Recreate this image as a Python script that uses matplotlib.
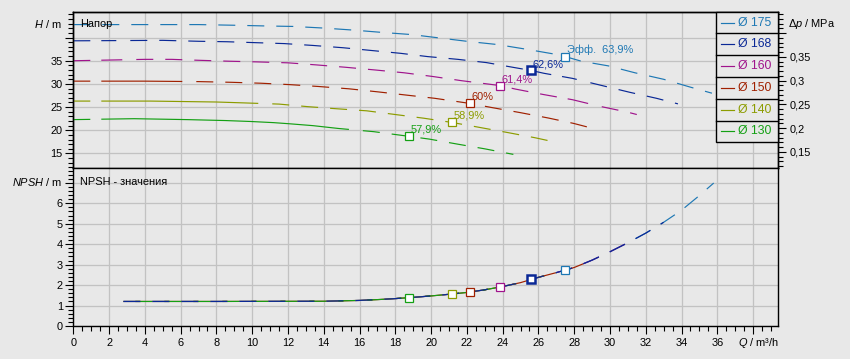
import numpy as np
import matplotlib
matplotlib.use("Agg")
import matplotlib.pyplot as plt
from matplotlib.ticker import MultipleLocator, FixedLocator, FixedFormatter, NullFormatter
from matplotlib.patches import Rectangle
from matplotlib.lines import Line2D

plt.rcParams['font.family'] = ['Liberation Sans', 'DejaVu Sans']
plt.rcParams['mathtext.fontset'] = 'custom'
plt.rcParams['mathtext.it'] = 'Liberation Sans:italic'
plt.rcParams['mathtext.rm'] = 'Liberation Sans'
plt.rcParams['lines.scale_dashes'] = False

# ---------------- data ----------------
diameters = ["175", "168", "160", "150", "140", "130"]
colors = ["#1e78b4", "#0a2896", "#a0148c", "#a02000", "#8c9c00", "#14a014"]

q175 = [0, 3, 7, 9.1, 10.8, 12.3, 14.0, 15.7, 17.3, 18.9, 22.1, 23.7, 25.3, 26.8, 27.5, 28.4, 29.9, 31.4, 33.0, 34.5, 35.7]
h175 = [42.8, 42.8, 42.8, 42.65, 42.5, 42.4, 42.05, 41.6, 41.1, 40.65, 39.15, 38.5, 37.5, 36.5, 35.9, 34.9, 33.9, 32.4, 31.0, 29.3, 28.0]

q168 = [0, 5, 7, 8.6, 10.2, 11.8, 13.4, 15.1, 16.7, 18.3, 19.8, 21.5, 23.1, 24.7, 25.6, 26.3, 27.9, 29.5, 31.1, 32.6, 33.8]
h168 = [39.3, 39.4, 39.2, 39.1, 38.9, 38.7, 38.3, 37.8, 37.2, 36.6, 35.9, 35.3, 34.6, 33.5, 32.9, 32.3, 31.2, 29.7, 28.2, 26.9, 25.7]

q160 = [0, 4, 5.5, 7.0, 8.7, 10.3, 12.0, 13.6, 15.2, 16.9, 18.5, 20.1, 21.7, 23.85, 24.7, 26.3, 27.9, 29.4, 31.0, 31.5]
h160 = [35.0, 35.3, 35.3, 35.1, 34.9, 34.75, 34.55, 34.1, 33.6, 33.0, 32.4, 31.6, 30.7, 29.65, 28.9, 27.7, 26.6, 25.2, 23.9, 23.4]

q150 = [0, 4, 7, 8.85, 10.5, 12.1, 13.7, 15.4, 17.0, 18.6, 20.2, 22.16, 23.4, 25.0, 26.55, 27.95, 29.3]
h150 = [30.6, 30.6, 30.5, 30.35, 30.15, 29.85, 29.45, 28.95, 28.3, 27.6, 26.9, 25.8, 24.9, 23.8, 22.65, 21.5, 20.15]

q140 = [0, 4.3, 8.0, 9.6, 11.5, 13.1, 14.7, 16.4, 18.0, 19.6, 21.15, 22.6, 24.3, 25.8, 27.0]
h140 = [26.3, 26.3, 26.1, 25.9, 25.65, 25.1, 24.65, 24.2, 23.4, 22.6, 21.7, 20.7, 19.5, 18.4, 17.4]

q130 = [0, 3.4, 6.4, 8.5, 9.9, 11.2, 12.1, 13.4, 14.8, 16.8, 18.76, 19.9, 21.5, 23.0, 24.6]
h130 = [22.3, 22.5, 22.3, 22.1, 21.9, 21.65, 21.4, 21.0, 20.4, 19.7, 18.7, 18.1, 17.0, 16.0, 14.8]

q_npsh = [2.8, 8, 14, 15, 16, 17, 18, 19, 20, 21, 22, 23, 24, 25, 26, 27, 28, 29, 30, 31, 32, 33, 34, 35, 35.8]
npsh = [1.2, 1.2, 1.21, 1.23, 1.25, 1.29, 1.34, 1.40, 1.47, 1.55, 1.64, 1.77, 1.93, 2.12, 2.38, 2.61, 2.86, 3.22, 3.63, 4.07, 4.54, 5.07, 5.66, 6.38, 6.99]
q_max = [35.8, 33.8, 31.5, 29.4, 27.0, 24.6]

eff_q = [27.5, 25.6, 23.85, 22.16, 21.15, 18.76]
eff_h = [35.9, 32.9, 29.65, 25.8, 21.7, 18.7]
eff_npsh = [2.73, 2.29, 1.90, 1.66, 1.56, 1.38]
eff_labels = ["Эфф.  63,9%", "62,6%", "61,4%", "60%", "58,9%", "57,9%"]

h_ticks = [15, 20, 25, 30, 35]
dp_ticks = [0.15, 0.2, 0.25, 0.3, 0.35]
dp_labels = ["0,15", "0,2", "0,25", "0,3", "0,35"]
npsh_ticks = [0, 1, 2, 3, 4, 5, 6]
q_ticks = list(range(0, 38, 2))

curves_q = [q175, q168, q160, q150, q140, q130]
curves_h = [h175, h168, h160, h150, h140, h130]

# ---------------- style ----------------
BG = "#e8e8e8"
GRID = "#c2c2c2"
PX = 0.72  # points per pixel at 100 dpi
FS = 7.9
LW = 0.85

fig = plt.figure(figsize=(8.5, 3.59), dpi=100, facecolor=BG)
W, Hf = 850.0, 359.0
xl, xr = 73.3, 778.3
ytop, ysep, ybot = 11.7, 168.3, 326.0
ax1 = fig.add_axes([xl / W, 1 - ysep / Hf, (xr - xl) / W, (ysep - ytop) / Hf])
ax2 = fig.add_axes([xl / W, 1 - ybot / Hf, (xr - xl) / W, (ybot - ysep) / Hf])

for ax in (ax1, ax2):
    ax.set_facecolor(BG)
    ax.set_xlim(0, 39.41)
    ax.xaxis.set_major_locator(MultipleLocator(2))
    ax.grid(True, which='major', color=GRID, lw=1.3 * PX)
    ax.set_axisbelow(True)
    for s in ax.spines.values():
        s.set_color('black')
        s.set_linewidth(1.0)

# upper axis
ax1.set_ylim(11.8, 45.58)
ax1.yaxis.set_major_locator(FixedLocator(h_ticks + [40]))
ax1.yaxis.set_major_formatter(FixedFormatter([str(t) for t in h_ticks] + [""]))
ax1.yaxis.set_minor_locator(MultipleLocator(1))
ax1.tick_params(axis='x', which='both', length=0, labelbottom=False)
ax1.tick_params(axis='y', which='major', direction='out', length=5.5, width=0.8, pad=2, labelsize=FS)
ax1.tick_params(axis='y', which='minor', direction='out', length=3.6, width=0.8)

k = 0.00977
ax1b = ax1.twinx()
ax1b.set_ylim(11.8 * k, 45.58 * k)
ax1b.yaxis.set_major_locator(FixedLocator(dp_ticks + [0.4]))
ax1b.yaxis.set_major_formatter(FixedFormatter(dp_labels + [""]))
ax1b.yaxis.set_minor_locator(MultipleLocator(0.01))
ax1b.yaxis.set_minor_formatter(NullFormatter())
ax1b.tick_params(axis='y', which='major', direction='out', length=5.5, width=0.8, pad=2.5, labelsize=FS)
ax1b.tick_params(axis='y', which='minor', direction='out', length=3.6, width=0.8)
for s in ax1b.spines.values():
    s.set_linewidth(1.0)

# lower axis
ax2.set_ylim(0, 7.71)
ax2.yaxis.set_major_locator(FixedLocator(npsh_ticks + [7]))
ax2.yaxis.set_major_formatter(FixedFormatter([str(t) for t in npsh_ticks] + [""]))
ax2.yaxis.set_minor_locator(MultipleLocator(0.2))
ax2.xaxis.set_major_locator(FixedLocator(q_ticks + [38]))
ax2.xaxis.set_major_formatter(FixedFormatter([str(t) for t in q_ticks] + [""]))
ax2.xaxis.set_minor_locator(MultipleLocator(0.5))
ax2.tick_params(axis='both', which='major', direction='out', length=5.5, width=0.8, labelsize=FS)
ax2.tick_params(axis='x', which='major', pad=3)
ax2.tick_params(axis='y', which='major', pad=2)
ax2.tick_params(axis='both', which='minor', direction='out', length=3.6, width=0.8)
ax2.spines['top'].set_visible(False)

# dash patterns (pixels) for the head curves: first short dash, one long dash, then regular
long_dash = [None, 15, 21, 81, 157, 248]
def head_dash(i):
    if i == 0:
        seq = [17, 12] * 40
        return (0, [v * PX for v in seq])
    seq = [17, 11, long_dash[i], 14] + [17, 12] * 40
    return (0, [v * PX for v in seq])

for i in range(6):
    ax1.plot(curves_q[i], curves_h[i], color=colors[i], lw=LW, linestyle=head_dash(i), zorder=3)

# NPSH curves, drawn in order so that 168 is on top
npsh_q_arr = np.array(q_npsh)
npsh_arr = np.array(npsh)
offsets = {0: 0, 2: 0, 3: 17, 4: 0, 5: 17, 1: 0}
for i in [0, 2, 3, 4, 5, 1]:
    m = npsh_q_arr <= q_max[i] + 0.05
    ax2.plot(npsh_q_arr[m], npsh_arr[m], color=colors[i], lw=LW,
             linestyle=(offsets[i] * PX, (17 * PX, 12 * PX)), zorder=3)

# efficiency points
for i in range(6):
    bold = (i == 1)
    ms = 6.4 if bold else 5.6
    mew = 1.8 if bold else 0.9
    for ax, yv in ((ax1, eff_h[i]), (ax2, eff_npsh[i])):
        ax.plot([eff_q[i]], [yv], marker='s', ms=ms, mfc='white', mec=colors[i], mew=mew,
                linestyle='none', zorder=5)
    ax1.annotate(eff_labels[i], (eff_q[i], eff_h[i]), xytext=(1.1, 2.5), textcoords='offset points',
                 ha='left', va='baseline', color=colors[i], fontsize=FS, zorder=6)

# panel titles / axis labels
def fx(px):
    return px / W
def fy(py):
    return 1 - py / Hf

fig.text(fx(80), fy(24), "Напор", fontsize=FS, va='center', ha='left')
fig.text(fx(80), fy(182), "NPSH - значения", fontsize=FS, va='center', ha='left')
fig.text(fx(62), fy(24), r"$\mathit{H}$ / m", fontsize=FS, va='center', ha='right')
fig.text(fx(62), fy(182), r"$\mathit{NPSH}$ / m", fontsize=FS, va='center', ha='right')
fig.text(fx(788), fy(24), r"$\mathit{Δp}$ / MPa", fontsize=FS, va='center', ha='left')
fig.text(fx(778.5), fy(343), r"$\mathit{Q}$ / m³/h", fontsize=FS, va='center', ha='right')

# legend box
lx0, lx1 = 715.7, 778.3
ly0, ly1 = 11.7, 142.3
rh = (ly1 - ly0) / 6
fig.patches.append(Rectangle((fx(lx0), fy(ly1)), (lx1 - lx0) / W, (ly1 - ly0) / Hf,
                             transform=fig.transFigure, facecolor=BG, edgecolor='black',
                             lw=1.0, zorder=10))
for i in range(6):
    yc = ly0 + rh * (i + 0.5)
    if i > 0:
        yl = ly0 + rh * i
        fig.lines.append(Line2D([fx(lx0), fx(lx1)], [fy(yl), fy(yl)], transform=fig.transFigure,
                                color='black', lw=1.0, zorder=11))
    fig.lines.append(Line2D([fx(721), fx(733.5)], [fy(yc), fy(yc)], transform=fig.transFigure,
                            color=colors[i], lw=LW, zorder=11))
    fig.text(fx(738), fy(yc), "Ø " + diameters[i], color=colors[i], fontsize=8.8,
             va='center', ha='left', zorder=12)

fig.savefig("out.png", dpi=100, facecolor=BG)
